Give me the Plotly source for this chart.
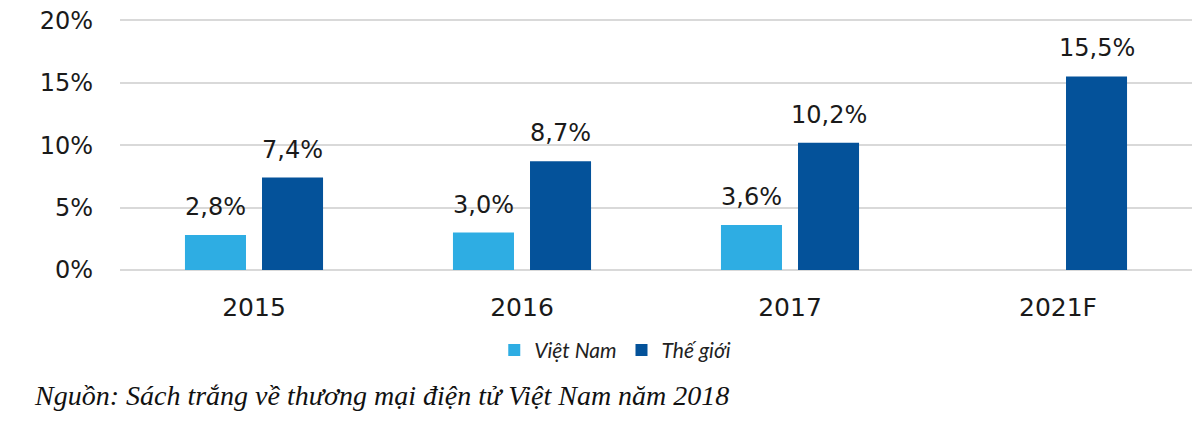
import plotly.graph_objects as go

categories = ["2015", "2016", "2017", "2021F"]
vietnam = [2.8, 3.0, 3.6, None]
the_gioi = [7.4, 8.7, 10.2, 15.5]
series_names = ["Việt Nam", "Thế giới"]
y_ticks = [0, 5, 10, 15, 20]
y_tick_labels = ["0%", "5%", "10%", "15%", "20%"]
source_text = "Nguồn: Sách trắng về thương mại điện tử Việt Nam năm 2018"

C_VN = "#2EADE3"
C_TG = "#04529A"

def fmt(v):
    return f"{v:.1f}".replace(".", ",") + "%"

fig = go.Figure()
fig.add_bar(x=categories, y=vietnam, name=series_names[0], marker=dict(color=C_VN, line=dict(width=0)))
fig.add_bar(x=categories, y=the_gioi, name=series_names[1], marker=dict(color=C_TG, line=dict(width=0)))

label_font = dict(family="DejaVu Sans", size=24, color="#1a1a1a")
annotations = []
for vals, shift in ((vietnam, -38.5), (the_gioi, 38.5)):
    for i, v in enumerate(vals):
        if v is None:
            continue
        # category axis: annotation x given as the category's serial index
        annotations.append(dict(x=i, y=v, xref="x", yref="y", text=fmt(v), showarrow=False,
                                xshift=shift, yshift=12, yanchor="bottom", xanchor="center",
                                font=label_font))
annotations.append(dict(x=-0.082, y=-0.5, xref="paper", yref="paper", text=source_text,
                        showarrow=False, xanchor="left", yanchor="middle",
                        font=dict(family="Liberation Serif", size=28, color="#111111", style="italic")))

fig.update_layout(
    width=1192, height=418,
    margin=dict(l=112, r=8, t=11, b=156),
    paper_bgcolor="white", plot_bgcolor="white",
    barmode="group", bargap=0.425, bargroupgap=0.208,
    showlegend=True,
    legend=dict(orientation="h", x=0.462, xanchor="center", y=-0.32, yanchor="middle",
                font=dict(family="Lato", size=21, color="#222222", style="italic"),
                itemwidth=30, traceorder="normal"),
    annotations=annotations,
    xaxis=dict(type="category", categoryorder="array", categoryarray=categories,
               range=[-0.5, len(categories) - 0.5],
               showgrid=False, showline=False, ticks="",
               tickfont=dict(family="DejaVu Sans", size=25, color="#1a1a1a"),
               ticklabelstandoff=20),
    yaxis=dict(range=[0, 20.1], tickvals=y_ticks, ticktext=y_tick_labels, showgrid=True,
               gridcolor="#D9D9D9", gridwidth=1.5, zeroline=True, zerolinecolor="#D9D9D9",
               zerolinewidth=1.5, showline=False, ticks="", ticklabeloverflow="allow",
               tickfont=dict(family="DejaVu Sans", size=24, color="#1a1a1a"),
               ticklabelstandoff=26, automargin=False),
)

fig.write_html("out.html")
